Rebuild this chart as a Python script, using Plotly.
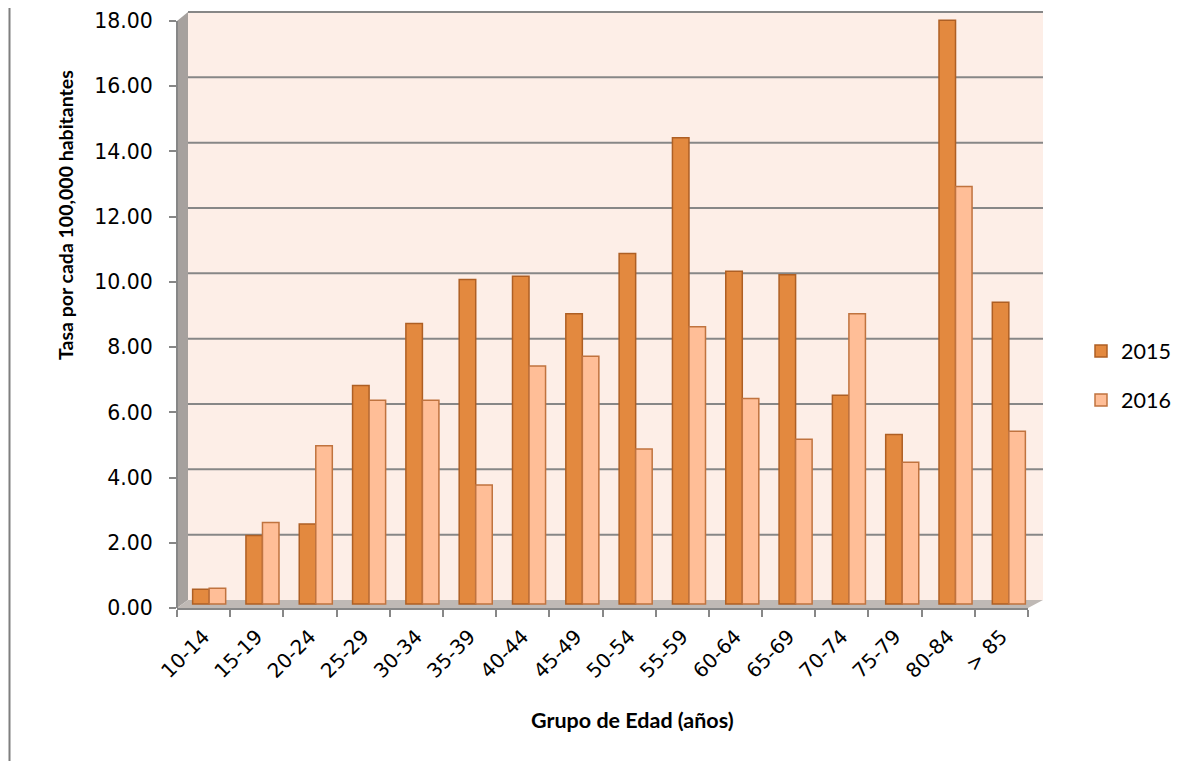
import plotly.graph_objects as go

categories = ["10-14", "15-19", "20-24", "25-29", "30-34", "35-39", "40-44", "45-49",
              "50-54", "55-59", "60-64", "65-69", "70-74", "75-79", "80-84", "> 85"]
values_2015 = [0.45, 2.10, 2.45, 6.70, 8.60, 9.95, 10.05, 8.90, 10.75, 14.30, 10.20, 10.10, 6.40, 5.20, 17.90, 9.25]
values_2016 = [0.48, 2.50, 4.85, 6.25, 6.25, 3.65, 7.30, 7.60, 4.75, 8.50, 6.30, 5.05, 8.90, 4.35, 12.80, 5.30]
y_ticks = [0, 2, 4, 6, 8, 10, 12, 14, 16, 18]

# page geometry (screen px); the page body has an 8px margin
OFF = 8
SW, SH = 1194, 769
W, H = SW - 2 * OFF, SH - 2 * OFF
# front plane of the 3-D box
FL, FR, FB, FT = 177, 1028, 608, 21
# back wall
BL, BR, BB, BT = 188, 1043, 600, 12
PT = BT  # top of plotting area
SCALE = (FB - FT) / 18.0
# middle depth plane (where the bars stand)
MB = 604
ML, MR = (FL + BL) / 2, (FR + BR) / 2
CAT_W = (MR - ML) / len(categories)


def px_x(x):
    return (x - FL) / (FR - FL)


def px_y(y):
    return (FB - y) / (FB - PT)


fig = go.Figure()
# invisible trace so the front category axis knows the categories
fig.add_scatter(x=categories, y=values_2015, mode="markers", marker=dict(opacity=0),
                showlegend=False, hoverinfo="skip")
fig.add_bar(name="2015", x=categories, y=values_2015, xaxis="x2", yaxis="y2", legendgroup="a",
            marker=dict(color="#E3893F", line=dict(color="#AE5F24", width=1.5)))
fig.add_bar(name="2016", x=categories, y=values_2016, xaxis="x2", yaxis="y2", legendgroup="b",
            marker=dict(color="#FFBE97", line=dict(color="#C0733F", width=1.5)))

grey = "#878787"
shapes = [
    # back wall
    dict(type="rect", xref="paper", yref="paper", x0=px_x(BL), x1=px_x(BR), y0=px_y(BB), y1=px_y(BT),
         fillcolor="#FDEEE7", line=dict(width=0), layer="below"),
    # left wall
    dict(type="path", xref="paper", yref="paper", layer="below", fillcolor="#A6A19E", line=dict(width=0),
         path=f"M {px_x(FL)} {px_y(FB)} L {px_x(FL)} {px_y(FT)} L {px_x(BL)} {px_y(BT)} L {px_x(BL)} {px_y(BB)} Z"),
    # floor
    dict(type="path", xref="paper", yref="paper", layer="below", fillcolor="#BFB9B5", line=dict(width=0),
         path=f"M {px_x(FL)} {px_y(FB)} L {px_x(BL)} {px_y(BB)} L {px_x(BR)} {px_y(BB)} L {px_x(FR)} {px_y(FB)} Z"),
    # front vertical axis line
    dict(type="line", xref="paper", yref="paper", x0=0, x1=0, y0=px_y(FB), y1=px_y(FT),
         line=dict(color=grey, width=2)),
    # outer chart border (left edge)
    dict(type="line", xref="paper", yref="paper", x0=px_x(OFF + 1.5), x1=px_x(OFF + 1.5),
         y0=px_y(OFF), y1=px_y(OFF + H), line=dict(color="#7F7F7F", width=2)),
]
# gridlines on the back wall
for v in y_ticks[1:]:
    yy = BB - v * (BB - BT) / 18.0
    shapes.append(dict(type="line", xref="paper", yref="paper", x0=px_x(BL), x1=px_x(BR),
                       y0=px_y(yy), y1=px_y(yy), line=dict(color=grey, width=2), layer="below"))

annotations = [
    dict(text="<b>Tasa por cada 100,000 habitantes</b>", xref="paper", yref="paper",
         x=px_x(65), y=px_y(215), xanchor="center", yanchor="middle", textangle=-90, showarrow=False,
         font=dict(family="Lato", size=19.5, color="black")),
    dict(text="<b>Grupo de Edad (años)</b>", xref="paper", yref="paper",
         x=px_x(632), y=px_y(720), xanchor="center", yanchor="middle", showarrow=False,
         font=dict(family="Lato", size=21.5, color="black")),
]

fig.update_layout(
    width=W, height=H,
    margin=dict(l=FL - OFF, r=OFF + W - FR, t=PT - OFF, b=OFF + H - FB, autoexpand=False),
    paper_bgcolor="white",
    plot_bgcolor="rgba(0,0,0,0)",
    barmode="group",
    bargap=0.38,
    bargroupgap=0,
    font=dict(family="DejaVu Sans", color="black"),
    legend=dict(x=px_x(1081), y=px_y(375.5), xanchor="left", yanchor="middle",
                font=dict(family="Lato", size=21.5), tracegroupgap=18,
                bgcolor="rgba(0,0,0,0)"),
    xaxis=dict(
        showgrid=False, tickangle=-45, tickfont=dict(size=20),
        ticks="outside", tickson="boundaries", ticklen=7, tickcolor=grey, tickwidth=1.5,
        showline=True, linecolor=grey, linewidth=2, ticklabelstandoff=7,
        range=[-0.5, len(categories) - 0.5], fixedrange=True,
    ),
    yaxis=dict(
        range=[0, (FB - PT) / SCALE], tickvals=y_ticks, tickformat=".2f",
        tickfont=dict(size=20.5), ticks="outside", ticklen=7, tickcolor=grey, tickwidth=1.5,
        showgrid=False, showline=False, zeroline=False, ticklabelstandoff=12,
    ),
    xaxis2=dict(
        overlaying="x", visible=False,
        range=[(FL - ML) / CAT_W - 0.5, (FR - ML) / CAT_W - 0.5],
    ),
    yaxis2=dict(
        overlaying="y", visible=False,
        range=[(MB - FB) / SCALE, (MB - PT) / SCALE],
    ),
    shapes=shapes,
    annotations=annotations,
)

fig.write_html("out.html")
